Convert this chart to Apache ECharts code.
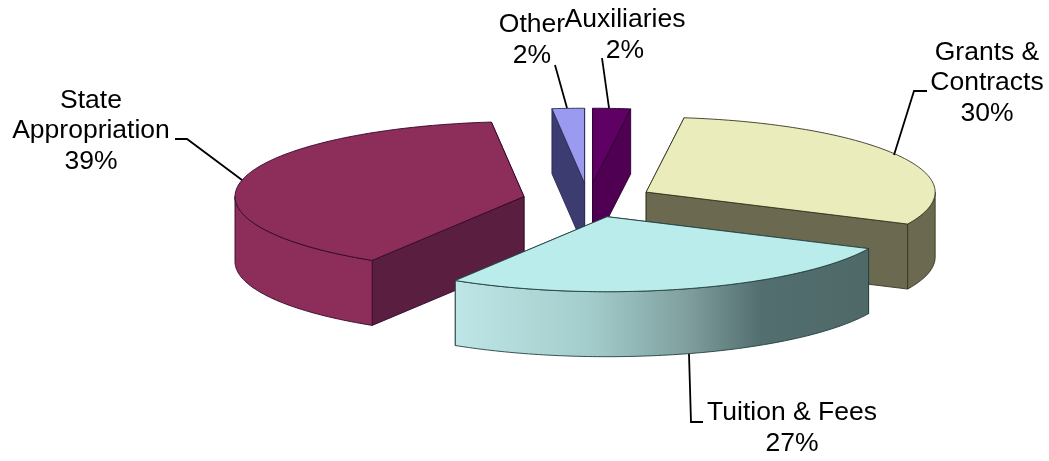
<!DOCTYPE html>
<html>
<head>
<meta charset="utf-8">
<style>html,body{margin:0;padding:0;background:#fff}#c{width:1049px;height:461px}</style>
<script src="https://cdn.jsdelivr.net/npm/echarts@6/dist/echarts.min.js"></script>
</head>
<body>
<div id="c"></div>
<script>
// Data, clockwise from 12 o'clock
var categories = ['Auxiliaries', 'Grants &\nContracts', 'Tuition & Fees', 'State\nAppropriation', 'Other'];
var shares = [2.1, 29.9, 26.8, 39.4, 1.8];

// Styling per slice
var topColors = ['#5f0064', '#ebecbc', '#bbecec', '#8c2d5a', '#9a9af0'];
var cutColors = ['#4f0052', '#6b6a50', '#4f6b6b', '#5a1e40', '#3c3c70'];
var rimColors = ['#4f0052', '#6b6a50', null, '#8c2d5a', '#3c3c70'];
var edgeColors = ['#2c0030', '#35351f', '#24403f', '#33082a', '#2a2a55'];

// Projection of the tilted pie
var CX = 588.3, CY = 200.3, RX = 289, RY = 75, DEPTH = 65, EXPLODE = 0.228;

// Label layout
var labelCentres = [[625, 35], [987, 83], [792, 428], [91, 131], [532, 40]];
var leaders = [
  [[602, 58], [609, 108]],
  [[927, 91], [914, 91], [894, 155]],
  [[689, 354], [691, 422], [703, 422]],
  [[175, 139], [187, 139], [242, 180]],
  [[555, 65], [567, 108]]
];

var total = shares.reduce(function (a, b) { return a + b; }, 0);
var RAD = Math.PI / 180;

function rimPoint(c, t, dy) {
  return [c[0] + RX * Math.sin(t * RAD), c[1] - RY * Math.cos(t * RAD) + (dy || 0)];
}
function arcPoints(c, a, b, dy) {
  var pts = [], n = Math.max(2, Math.ceil(Math.abs(b - a)));
  for (var i = 0; i <= n; i++) pts.push(rimPoint(c, a + (b - a) * i / n, dy));
  return pts;
}
function poly(points, fill, stroke, z2) {
  return { type: 'polygon', z2: z2, shape: { points: points },
    style: { fill: fill, stroke: stroke, lineWidth: 0.9, lineJoin: 'round' } };
}

function renderSlice(params, api) {
  var i = params.dataIndex, value = api.value(0), before = 0;
  for (var k = 0; k < i; k++) before += shares[k];
  var a = before / total * 360, b = a + value / total * 360, m = (a + b) / 2;
  var c = [CX + RX * EXPLODE * Math.sin(m * RAD), CY - RY * EXPLODE * Math.cos(m * RAD)];
  var base = Math.round(c[1]) * 10, kids = [], edge = edgeColors[i];

  // cut faces, the one whose rim point is higher goes first
  var cuts = [a, b].sort(function (p, q) { return rimPoint(c, p)[1] - rimPoint(c, q)[1]; });
  cuts.forEach(function (t, n) {
    var r = rimPoint(c, t);
    kids.push(poly([c, r, [r[0], r[1] + DEPTH], [c[0], c[1] + DEPTH]], cutColors[i], edge, base + n));
  });

  // outer wall, front half only
  var wa = Math.max(a, 90), wb = Math.min(b, 270);
  if (wb > wa) {
    var wall = arcPoints(c, wa, wb, 0).concat(arcPoints(c, wb, wa, DEPTH));
    var fill = rimColors[i] || new echarts.graphic.LinearGradient(0, 0, 1, 0, [
      { offset: 0, color: '#bfe6e6' },
      { offset: 0.33, color: '#a2cccb' },
      { offset: 0.56, color: '#7f9f9e' },
      { offset: 0.74, color: '#536e6e' },
      { offset: 1, color: '#4f6969' }
    ]);
    kids.push(poly(wall, fill, edge, base + 2));
  }

  // top face
  kids.push(poly([c].concat(arcPoints(c, a, b, 0)), topColors[i], edge, base + 3));

  // leader and label
  kids.push({ type: 'polyline', z2: 9000, shape: { points: leaders[i] },
    style: { fill: null, stroke: '#000', lineWidth: 1.8 } });
  kids.push({ type: 'text', z2: i === 0 ? 9002 : 9001,
    x: labelCentres[i][0], y: labelCentres[i][1],
    style: { text: categories[i] + '\n' + Math.round(value) + '%',
      fontFamily: '"Liberation Sans", Arial, sans-serif', fontSize: 26.5, lineHeight: 30.5,
      fill: '#000', align: 'center', verticalAlign: 'middle' } });

  return { type: 'group', children: kids };
}

var chart = echarts.init(document.getElementById('c'), null, { renderer: 'canvas' });
chart.setOption({
  backgroundColor: '#ffffff',
  animation: false,
  series: [{
    type: 'custom',
    coordinateSystem: 'none',
    silent: true,
    renderItem: renderSlice,
    data: categories.map(function (name, i) { return { name: name, value: [shares[i]] }; })
  }]
});
</script>
</body>
</html>
